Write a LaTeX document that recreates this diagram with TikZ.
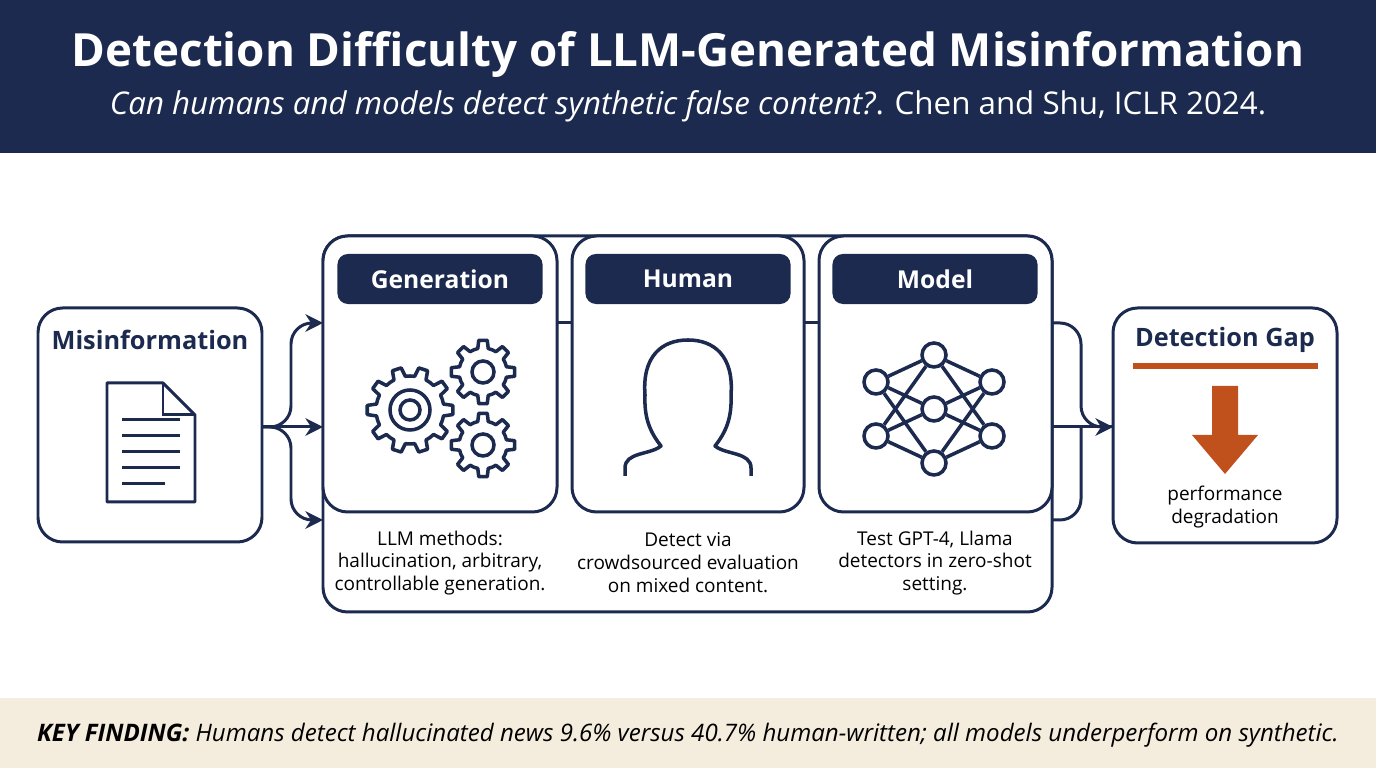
\documentclass[tikz,border=0pt]{standalone}
\usepackage{fontspec}
\setmainfont{Open Sans}
\usetikzlibrary{positioning,arrows.meta}
\definecolor{navy}{HTML}{1B2A4E}
\definecolor{rust}{HTML}{C0501C}
\definecolor{sand}{HTML}{F4ECDC}
\newcommand\gearicon[5]{% x, y, inner r, outer r, teeth
  \begin{scope}[shift={(#1,#2)}]
    \pgfmathsetmacro\gstep{360/#5}
    \draw[line width=1pt, line join=round] (-0.28*\gstep:#3)
      \foreach \a in {0,\gstep,...,359} { -- (\a-0.28*\gstep:#3) -- (\a-0.17*\gstep:#4) -- (\a+0.17*\gstep:#4) -- (\a+0.28*\gstep:#3)
      arc[start angle=\a+0.28*\gstep, end angle=\a+0.72*\gstep, radius=#3] } -- cycle;
  \end{scope}}
\begin{document}
\begin{tikzpicture}[x=0.01cm, y=-0.01cm, navy, line width=0.85pt,
    panel/.style={draw, rounded corners=7pt},
    tag/.style={fill=navy, rounded corners=3pt, text=white, minimum width=2.05cm, minimum height=0.5cm, font=\fontsize{7}{8}\selectfont\bfseries},
    title/.style={font=\fontsize{7.2}{8}\selectfont\bfseries},
    desc/.style={align=center, font=\fontsize{5.4}{6.5}\selectfont, text=black},
    link/.style={-{Stealth[length=5pt,width=5pt]}, rounded corners=6pt}]
  \useasboundingbox (0,0) rectangle (1376,768);
  % header and footer bands
  \fill[navy] (0,0) rectangle (1376,153);
  \fill[sand] (0,698) rectangle (1376,768);
  \node (head) at (688,55) {\fontsize{13.0}{16}\selectfont\bfseries\color{white}Detection Difficulty of LLM-Generated Misinformation};
  \node (sub) at (688,106) {\fontsize{8.9}{10}\selectfont\color{white}\itshape Can humans and models detect synthetic false content?\upshape. Chen and Shu, ICLR 2024.};
  \node (key) at (688,735) {\fontsize{6.85}{8}\selectfont\itshape\color{black}\textbf{KEY FINDING:} Humans detect hallucinated news 9.6\% versus 40.7\% human-written; all models underperform on synthetic.};

  % source box
  \draw[panel] (38,308) rectangle (262,542);
  \coordinate (src) at (262,427);
  \node[title] (mis) at (150,340) {Misinformation};
  \draw[line join=round] (107,383) -- (163,383) -- (195,415) -- (195,502) -- (107,502) -- cycle;
  \draw (163,383) -- (163,415) -- (195,415);
  \foreach \y/\w in {420/180,436/180,452/180,468/180,484/165}
    \draw (122,\y) -- (\w,\y);

  % three stages in one frame
  \draw[panel] (323,236) rectangle (1052,612);
  \draw[panel, fill=white] (323,236) rectangle (557,512);
  \draw[panel, fill=white] (572,236) rectangle (804,512);
  \draw[panel, fill=white] (819,236) rectangle (1052,512);
  \draw (557,323) -- (572,323);
  \draw (804,323) -- (819,323);
  \node[tag] (gen) at (440,279) {Generation};
  \node[tag] (hum) at (688,279) {Human};
  \node[tag] (mod) at (935,279) {Model};
  \node[desc] (gtxt) at (440,563) {LLM methods:\\hallucination, arbitrary,\\controllable generation.};
  \node[desc] (htxt) at (688,563) {Detect via\\crowdsourced evaluation\\on mixed content.};
  \node[desc] (mtxt) at (935,563) {Test GPT-4, Llama\\detectors in zero-shot\\setting.};

  % gears
  \gearicon{410}{410}{34}{43}{10}
  \draw[line width=1pt] (410,410) circle (20) (410,410) circle (10);
  \gearicon{483}{372}{24}{32}{8}
  \draw[line width=1pt] (483,372) circle (11);
  \gearicon{483}{445}{24}{32}{8}
  \draw[line width=1pt] (483,445) circle (11);

  % person
  \draw[line width=1pt, line join=round] (625,476) -- (625,468) .. controls (625,452) and (650,455) .. (661,446)
    .. controls (650,432) and (644,418) .. (645,395) .. controls (642,356) and (662,340) .. (688,340)
    .. controls (714,340) and (734,356) .. (731,395) .. controls (732,418) and (726,432) .. (715,446)
    .. controls (726,455) and (751,452) .. (751,468) -- (751,476);

  % network
  \foreach \i/\x/\y in {a1/876/382,a2/876/436,b1/934/355,b2/934/409,b3/934/463,c1/992/382,c2/992/436}
    \node[circle, draw, line width=1pt, minimum size=0.24cm, inner sep=0pt, fill=white] (\i) at (\x,\y) {};
  \foreach \s in {a1,a2} \foreach \t in {b1,b2,b3}
    \draw[line width=1pt] (\s) -- (\t);
  \foreach \s in {b1,b2,b3} \foreach \t in {c1,c2}
    \draw[line width=1pt] (\s) -- (\t);

  % result box
  \draw[panel] (1113,308) rectangle (1337,543);
  \coordinate (dst) at (1113,427);
  \node[title] (gap) at (1225,340) {Detection Gap};
  \fill[rust] (1133,363) rectangle (1318,369);
  \fill[rust] (1212,386) -- (1238,386) -- (1238,435) -- (1258,435) -- (1225,474) -- (1192,435) -- (1212,435) -- cycle;
  \node[desc] (perf) at (1225,507) {performance\\degradation};

  % connectors
  \draw[link] (src) -- (291,427) -- (291,323) -- (323,323);
  \draw[link] (src) -- (323,427);
  \draw[link] (src) -- (291,427) -- (291,520) -- (323,520);
  \draw[link] (1052,323) -- (1081,323) -- (1081,427) -- (dst);
  \draw[rounded corners=6pt] (1052,520) -- (1081,520) -- (1081,427);
  \draw (1052,427) -- (dst);
\end{tikzpicture}
\end{document}
